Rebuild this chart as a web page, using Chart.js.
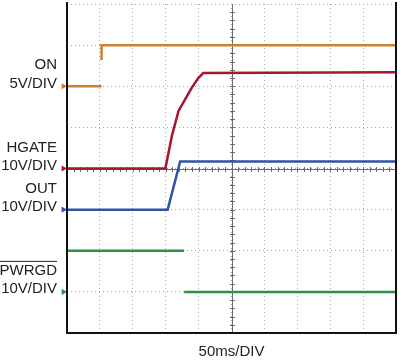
<!DOCTYPE html>
<html>
<head>
<meta charset="utf-8">
<script src="https://cdn.jsdelivr.net/npm/chart.js@4/dist/chart.umd.min.js"></script>
<style>
  html, body { margin: 0; padding: 0; background: #fff; }
  canvas { display: block; }
</style>
</head>
<body>
<canvas id="scope" width="400" height="362"></canvas>
<script>
// channel settings (scope screen)
const channelNames = ["ON", "HGATE", "OUT", "PWRGD"];
const channelScales = ["5V/DIV", "10V/DIV", "10V/DIV", "10V/DIV"];
const voltsPerDiv = [5, 10, 10, 10];
const offsetDiv = [6, 4, 3, 1];
const channelColors = ["#cb8030", "#a3182f", "#3053a6", "#2f9142"];

// time in ms, voltage in V (null = trace not visible)
const onTime = [0, 52.5, 52.5, 52.5, 52.5, 500];
const onVolts = [0, 0, null, 3.2, 5, 5];

const hgateTime = [0, 149.5, 159.5, 169.5, 179.5, 189.5, 199.5, 207, 500];
const hgateVolts = [0, 0, 8.0, 14.0, 16.8, 19.6, 22.0, 23.2, 23.4];

const outTime = [0, 153, 172, 500];
const outVolts = [0, 0, 11.7, 11.7];

const pwrgdTime = [0, 178, 178, 178, 500];
const pwrgdVolts = [10, 10, null, 0, 0];

const timePerDiv = 50;
const xDivs = 10;
const yDivs = 8;

function toPoints(times, volts, ch) {
  return times.map((t, i) => ({
    x: t,
    y: volts[i] === null ? null : offsetDiv[ch] + volts[i] / voltsPerDiv[ch],
  }));
}

function traceDataset(times, volts, ch) {
  return {
    type: "line",
    label: channelNames[ch],
    data: toPoints(times, volts, ch),
    borderColor: channelColors[ch],
    borderWidth: 2.5,
    pointRadius: 0,
    tension: 0,
    spanGaps: false,
  };
}

// ground markers just left of the screen
const markerDataset = {
  type: "scatter",
  label: "markers",
  data: offsetDiv.map(o => ({ x: -5.5, y: o })),
  pointStyle: "triangle",
  rotation: 90,
  radius: 3.5,
  pointBackgroundColor: channelColors,
  pointBorderColor: channelColors,
  pointBorderWidth: 0,
  clip: false,
};

const FONT = "'Liberation Sans', Arial, sans-serif";

// center cross with minor ticks, frame and channel labels
const scopePlugin = {
  id: "scopePlugin",
  beforeDatasetsDraw(chart) {
    const { ctx, chartArea: a, scales: { x, y } } = chart;
    const cx = Math.round(x.getPixelForValue(timePerDiv * xDivs / 2)) + 0.5;
    const cy = Math.round(y.getPixelForValue(yDivs / 2)) + 0.5;
    ctx.save();
    ctx.strokeStyle = "#6a6a6a";
    ctx.lineWidth = 1;
    ctx.beginPath();
    ctx.moveTo(cx, a.top);
    ctx.lineTo(cx, a.bottom);
    ctx.moveTo(a.left, cy);
    ctx.lineTo(a.right, cy);
    for (let i = 1; i < yDivs * 5; i++) {
      const py = Math.round(y.getPixelForValue(i / 5)) + 0.5;
      ctx.moveTo(cx - 2.5, py);
      ctx.lineTo(cx + 2.5, py);
    }
    for (let i = 1; i < xDivs * 5; i++) {
      const px = Math.round(x.getPixelForValue(i * timePerDiv / 5)) + 0.5;
      ctx.moveTo(px, cy - 2.5);
      ctx.lineTo(px, cy + 2.5);
    }
    ctx.stroke();
    ctx.restore();
  },
  afterDraw(chart) {
    const { ctx, chartArea: a, scales: { y } } = chart;
    ctx.save();
    ctx.strokeStyle = "#111";
    ctx.lineWidth = 2;
    ctx.beginPath();
    ctx.moveTo(a.left, a.top - 2);
    ctx.lineTo(a.left, a.bottom);
    ctx.lineTo(a.right, a.bottom);
    ctx.lineTo(a.right, a.top - 2);
    ctx.stroke();

    ctx.fillStyle = "#222";
    ctx.font = "15px " + FONT;
    ctx.textAlign = "right";
    ctx.textBaseline = "alphabetic";
    const textRight = a.left - 10;
    channelNames.forEach((name, i) => {
      const lvl = y.getPixelForValue(offsetDiv[i]);
      ctx.fillText(name, textRight, lvl - 17);
      ctx.fillText(channelScales[i], textRight, lvl + 1.5);
      if (name === "PWRGD") {
        // active-low overline
        const w = ctx.measureText(name).width;
        ctx.lineWidth = 1;
        ctx.strokeStyle = "#222";
        ctx.beginPath();
        ctx.moveTo(textRight - w, lvl - 30.5);
        ctx.lineTo(textRight, lvl - 30.5);
        ctx.stroke();
      }
    });
    ctx.restore();
  },
};

const datasets = [
  traceDataset(onTime, onVolts, 0),
  traceDataset(hgateTime, hgateVolts, 1),
  traceDataset(outTime, outVolts, 2),
  traceDataset(pwrgdTime, pwrgdVolts, 3),
  markerDataset,
];

new Chart(document.getElementById("scope"), {
  data: { datasets: datasets },
  options: {
    responsive: false,
    animation: false,
    events: [],
    layout: { padding: { left: 67, right: 1, top: 0, bottom: 0 } },
    plugins: {
      legend: { display: false },
      tooltip: { enabled: false },
    },
    scales: {
      x: {
        type: "linear",
        // range set here so off-screen markers are not culled
        afterDataLimits(scale) {
          scale.min = 0;
          scale.max = timePerDiv * xDivs;
        },
        ticks: { display: false, stepSize: timePerDiv },
        grid: { color: "#a8a8a8", lineWidth: 1, drawTicks: false },
        border: { display: false, dash: [1, 3] },
        title: {
          display: true,
          text: timePerDiv + "ms/DIV",
          color: "#222",
          font: { family: FONT, size: 15 },
          padding: { top: 10, bottom: 1 },
        },
      },
      y: {
        type: "linear",
        min: 0,
        max: yDivs,
        ticks: { display: false, stepSize: 1 },
        grid: { color: "#a8a8a8", lineWidth: 1, drawTicks: false },
        border: { display: false, dash: [1, 3] },
      },
    },
  },
  plugins: [scopePlugin],
});
</script>
</body>
</html>
